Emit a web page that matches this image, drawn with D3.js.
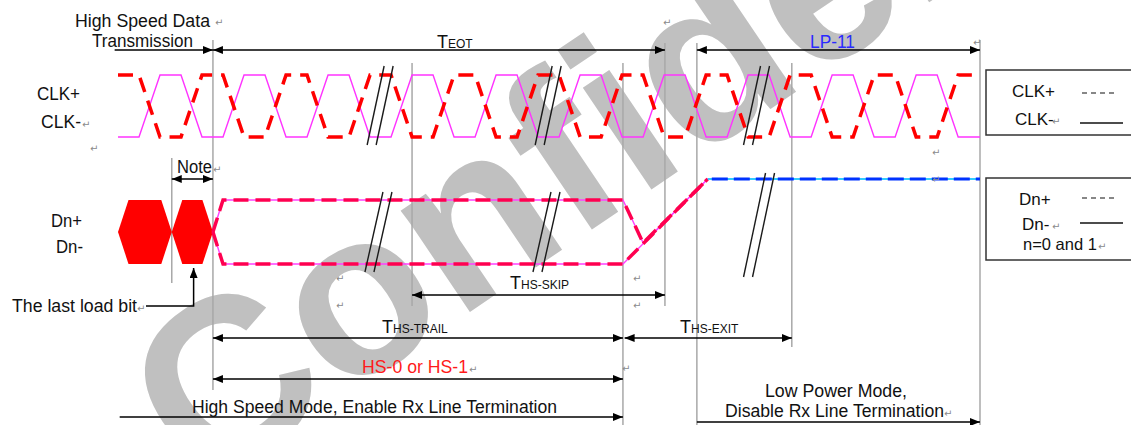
<!DOCTYPE html>
<html><head><meta charset="utf-8">
<script src="https://cdn.jsdelivr.net/npm/d3@7"></script>
<style>
html,body{margin:0;padding:0;background:#fff;overflow:hidden}
svg{display:block;font-family:"Liberation Sans",Arial,sans-serif}
</style></head><body>
<svg id="c" width="1131" height="425"></svg>
<script>
// ================= DATA (time in clock periods / UI) =================
const clkHighStarts = [0.5, 1.5, 2.5, 3.5, 4.5, 5.5, 6.5, 7.5, 8.5, 9.5];
const clkSpan = [0, 10.26];
const clkBreaks = [3.12, 5.12, 7.6];
const dataBreaks = [3.1, 5.1, 7.63];
const lastBits = [[0, 0.64], [0.64, 1.13]];              // hexagon [start, end]
const dnPlusHS  = [[1.13, 0.5], [1.25, 1], [6.01, 1], [6.25, 0.33], [7.02, 1.33]];
const dnMinusHS = [[1.13, 0.5], [1.25, 0], [6.01, 0], [7.02, 1.33]];
const lp11Line  = [[7.02, 1.33], [10.26, 1.33]];
const markerTimes = [0.64, 1.13, 3.5, 6.01, 6.51, 6.89, 8.02, 10.26];
const spanIds   = ["hsd", "eot", "lp11", "note", "skip", "trail", "exit", "hs", "hsm", "lpm"];
const spanStart = [-0.04, 1.13, 6.89, 0.64, 3.5, 1.13, 6.03, 1.13, 0.02, 6.89];
const spanEnd   = [1.13, 6.51, 10.26, 1.13, 6.51, 6.01, 8.02, 6.01, 6.01, 10.26];
const spanBoth  = [false, true, true, true, true, true, true, true, false, false];
const labels = ["High Speed Data", "Transmission", "LP-11", "CLK+", "CLK-", "Dn+", "Dn-", "Note",
  "The last load bit", "HS-0 or HS-1", "High Speed Mode, Enable Rx Line Termination",
  "Low Power Mode,", "Disable Rx Line Termination"];
const timingLabels = [["T", "EOT"], ["T", "HS-SKIP"], ["T", "HS-TRAIL"], ["T", "HS-EXIT"]];
const legendClk = ["CLK+", "CLK-"];
const legendDn = ["Dn+", "Dn-", "n=0 and 1"];
const watermark = "Confidential";

// ================= LAYOUT =================
const W = 1131, H = 425;
const svg = d3.select("#c");
const x = d3.scaleLinear().domain([0, 10.26]).range([118, 980]);
const yClk = d3.scaleLinear().domain([0, 1]).range([137, 75]);
const yDat = d3.scaleLinear().domain([0, 1]).range([264, 200]);

const markerY = [[158, 283], [40, 390], [63, 306], [63, 425], [43, 306], [43, 425], [63, 347], [40, 425]];
const spanRow = {hsd: 50, eot: 50, lp11: 50, note: 179, skip: 295, trail: 338, exit: 338, hs: 379, hsm: 417, lpm: 422};
const labelPos = [[75, 27, 135], [92, 47, 101], [810, 48, 45], [37, 100, 43], [41, 128, 40],
  [51, 227, 31], [56, 253, 27], [177, 173, 35], [12, 312, 125], [362, 373, 106],
  [192, 413, 365], [765, 397, 142], [725, 417, 219]];
const labelColor = {2: "#2a2aff", 9: "#ff1a1a"};
const timingPos = [[437, 48], [510, 289], [382, 333], [680, 333]];
const retMarks = [[215, 26], [663, 26], [973, 46], [82, 128], [90, 152], [932, 156], [213, 173],
  [932, 183], [336, 282], [336, 309], [633, 282], [633, 309], [469, 373], [622, 372], [137, 312],
  [944, 417], [1052, 125], [1052, 230], [1098, 250]];

// ---- watermark ----
svg.append("text")
  .attr("transform", "translate(200,494) rotate(-34)")
  .attr("font-size", 232).attr("font-weight", "bold")
  .attr("font-family", "'Liberation Sans', Arial, sans-serif")
  .attr("fill", "#c0c0c0").text(watermark);

// ---- defs: arrowheads ----
const defs = svg.append("defs");
defs.append("marker").attr("id", "ah").attr("viewBox", "0 0 10 8")
  .attr("refX", 10).attr("refY", 4).attr("markerWidth", 10).attr("markerHeight", 8)
  .attr("markerUnits", "userSpaceOnUse").attr("orient", "auto-start-reverse")
  .append("path").attr("d", "M0,0 L10,4 L0,8 Z").attr("fill", "#000");

// ---- vertical marker lines ----
svg.append("g").selectAll("line").data(markerTimes).join("line")
  .attr("x1", d => x(d)).attr("x2", d => x(d))
  .attr("y1", (d, i) => markerY[i][0]).attr("y2", (d, i) => markerY[i][1])
  .attr("stroke", "#a8a8a8").attr("stroke-width", 1.5);

// ---- clock ----
function clkPoints(inv) {
  const lo = inv ? 1 : 0, hi = inv ? 0 : 1;
  const pts = [[clkSpan[0], lo]];
  clkHighStarts.forEach(s => { pts.push([s - 0.25, lo], [s, hi], [s + 0.25, hi], [s + 0.5, lo]); });
  pts.push([clkSpan[1], lo]);
  return pts;
}
const lineClk = d3.line().x(d => x(d[0])).y(d => yClk(d[1]));
svg.append("path").attr("d", lineClk(clkPoints(false)))
  .attr("fill", "none").attr("stroke", "#ff33ff").attr("stroke-width", 1.4);
svg.append("path").attr("d", lineClk(clkPoints(true)))
  .attr("fill", "none").attr("stroke", "#ff0000").attr("stroke-width", 3.5)
  .attr("stroke-dasharray", "15,9");

// ---- last load bits (hexagons) ----
svg.append("g").selectAll("path").data(lastBits).join("path")
  .attr("d", d => {
    const a = d[0], b = d[1], k = 0.125;
    return d3.line()([[x(a), yDat(0.5)], [x(a + k), yDat(1)], [x(b - k), yDat(1)], [x(b), yDat(0.5)],
      [x(b - k), yDat(0)], [x(a + k), yDat(0)]]) + "Z";
  })
  .attr("fill", "#ff0000");

// ---- data lanes ----
const lineDat = d3.line().x(d => x(d[0])).y(d => yDat(d[1]));
[dnMinusHS, dnPlusHS].forEach(p => svg.append("path").attr("d", lineDat(p))
  .attr("fill", "none").attr("stroke", "#ff40ff").attr("stroke-width", 1.4));
[dnMinusHS, dnPlusHS].forEach(p => svg.append("path").attr("d", lineDat(p))
  .attr("fill", "none").attr("stroke", "#ff0050").attr("stroke-width", 3.5)
  .attr("stroke-dasharray", "15,7"));
svg.append("path").attr("d", lineDat(lp11Line)).attr("fill", "none")
  .attr("stroke", "#33ccff").attr("stroke-width", 2);
svg.append("path").attr("d", lineDat(lp11Line)).attr("fill", "none")
  .attr("stroke", "#0033ff").attr("stroke-width", 3).attr("stroke-dasharray", "16,6")
  .attr("stroke-dashoffset", -4);

// ---- break marks ----
function breaks(times, yb, yt, slant) {
  const g = svg.append("g");
  times.forEach(t => {
    const c = x(t);
    [-4.5, 4.5].forEach(o => g.append("line")
      .attr("x1", c + o - slant / 2).attr("y1", yb)
      .attr("x2", c + o + slant / 2).attr("y2", yt)
      .attr("stroke", "#1a1a1a").attr("stroke-width", 1.4));
  });
}
breaks(clkBreaks, 145, 66, 17);
breaks(dataBreaks.slice(0, 2), 272, 192, 18);
breaks(dataBreaks.slice(2), 277, 173, 22);

// ---- dimension arrows ----
svg.append("g").selectAll("line").data(spanIds).join("line")
  .attr("x1", (d, i) => x(spanStart[i])).attr("x2", (d, i) => x(spanEnd[i]))
  .attr("y1", d => spanRow[d]).attr("y2", d => spanRow[d])
  .attr("stroke", "#000").attr("stroke-width", 1.5)
  .attr("marker-end", "url(#ah)")
  .attr("marker-start", (d, i) => spanBoth[i] ? "url(#ah)" : null);

// last load bit pointer
svg.append("path")
  .attr("d", d3.line()([[146, 306], [x(0.9), 306], [x(0.9), 268]]))
  .attr("fill", "none").attr("stroke", "#000").attr("stroke-width", 1.5)
  .attr("marker-end", "url(#ah)");

// ---- labels ----
svg.append("g").selectAll("text").data(labels).join("text")
  .attr("x", (d, i) => labelPos[i][0]).attr("y", (d, i) => labelPos[i][1])
  .attr("textLength", (d, i) => labelPos[i][2]).attr("lengthAdjust", "spacingAndGlyphs")
  .attr("font-size", 17.5).attr("fill", (d, i) => labelColor[i] || "#111")
  .text(d => d);

const tl = svg.append("g").selectAll("text").data(timingLabels).join("text")
  .attr("x", (d, i) => timingPos[i][0]).attr("y", (d, i) => timingPos[i][1])
  .attr("fill", "#111");
tl.append("tspan").attr("font-size", 18).text(d => d[0]);
tl.append("tspan").attr("font-size", 12).text(d => d[1]);

// ---- legends ----
svg.append("rect").attr("x", 986).attr("y", 70).attr("width", 160).attr("height", 65)
  .attr("fill", "#fff").attr("stroke", "#333").attr("stroke-width", 1.5);
svg.append("rect").attr("x", 986).attr("y", 178).attr("width", 160).attr("height", 82)
  .attr("fill", "#fff").attr("stroke", "#333").attr("stroke-width", 1.5);
const legPos = [[1012, 97], [1015, 125]];
svg.append("g").selectAll("text").data(legendClk).join("text")
  .attr("x", (d, i) => legPos[i][0]).attr("y", (d, i) => legPos[i][1])
  .attr("font-size", 17).attr("fill", "#111").text(d => d);
const legPos2 = [[1019, 205], [1022, 230], [1023, 250]];
svg.append("g").selectAll("text").data(legendDn).join("text")
  .attr("x", (d, i) => legPos2[i][0]).attr("y", (d, i) => legPos2[i][1])
  .attr("font-size", (d, i) => i === 2 ? 16.5 : 17).attr("fill", "#111").text(d => d);
[93, 198].forEach(yd => svg.append("line").attr("x1", 1082).attr("x2", 1118)
  .attr("y1", yd).attr("y2", yd)
  .attr("stroke", "#111").attr("stroke-width", 1.2).attr("stroke-dasharray", "5,4"));
[123, 223].forEach(ys => svg.append("line").attr("x1", 1080).attr("x2", 1123)
  .attr("y1", ys).attr("y2", ys)
  .attr("stroke", "#111").attr("stroke-width", 1.5));

// ---- paragraph marks ----
svg.append("g").selectAll("text").data(retMarks).join("text")
  .attr("x", d => d[0]).attr("y", d => d[1])
  .attr("font-size", 10).attr("font-family", "'DejaVu Sans', sans-serif")
  .attr("fill", "#8a8a8a").text("\u21B5");
</script>
</body></html>
